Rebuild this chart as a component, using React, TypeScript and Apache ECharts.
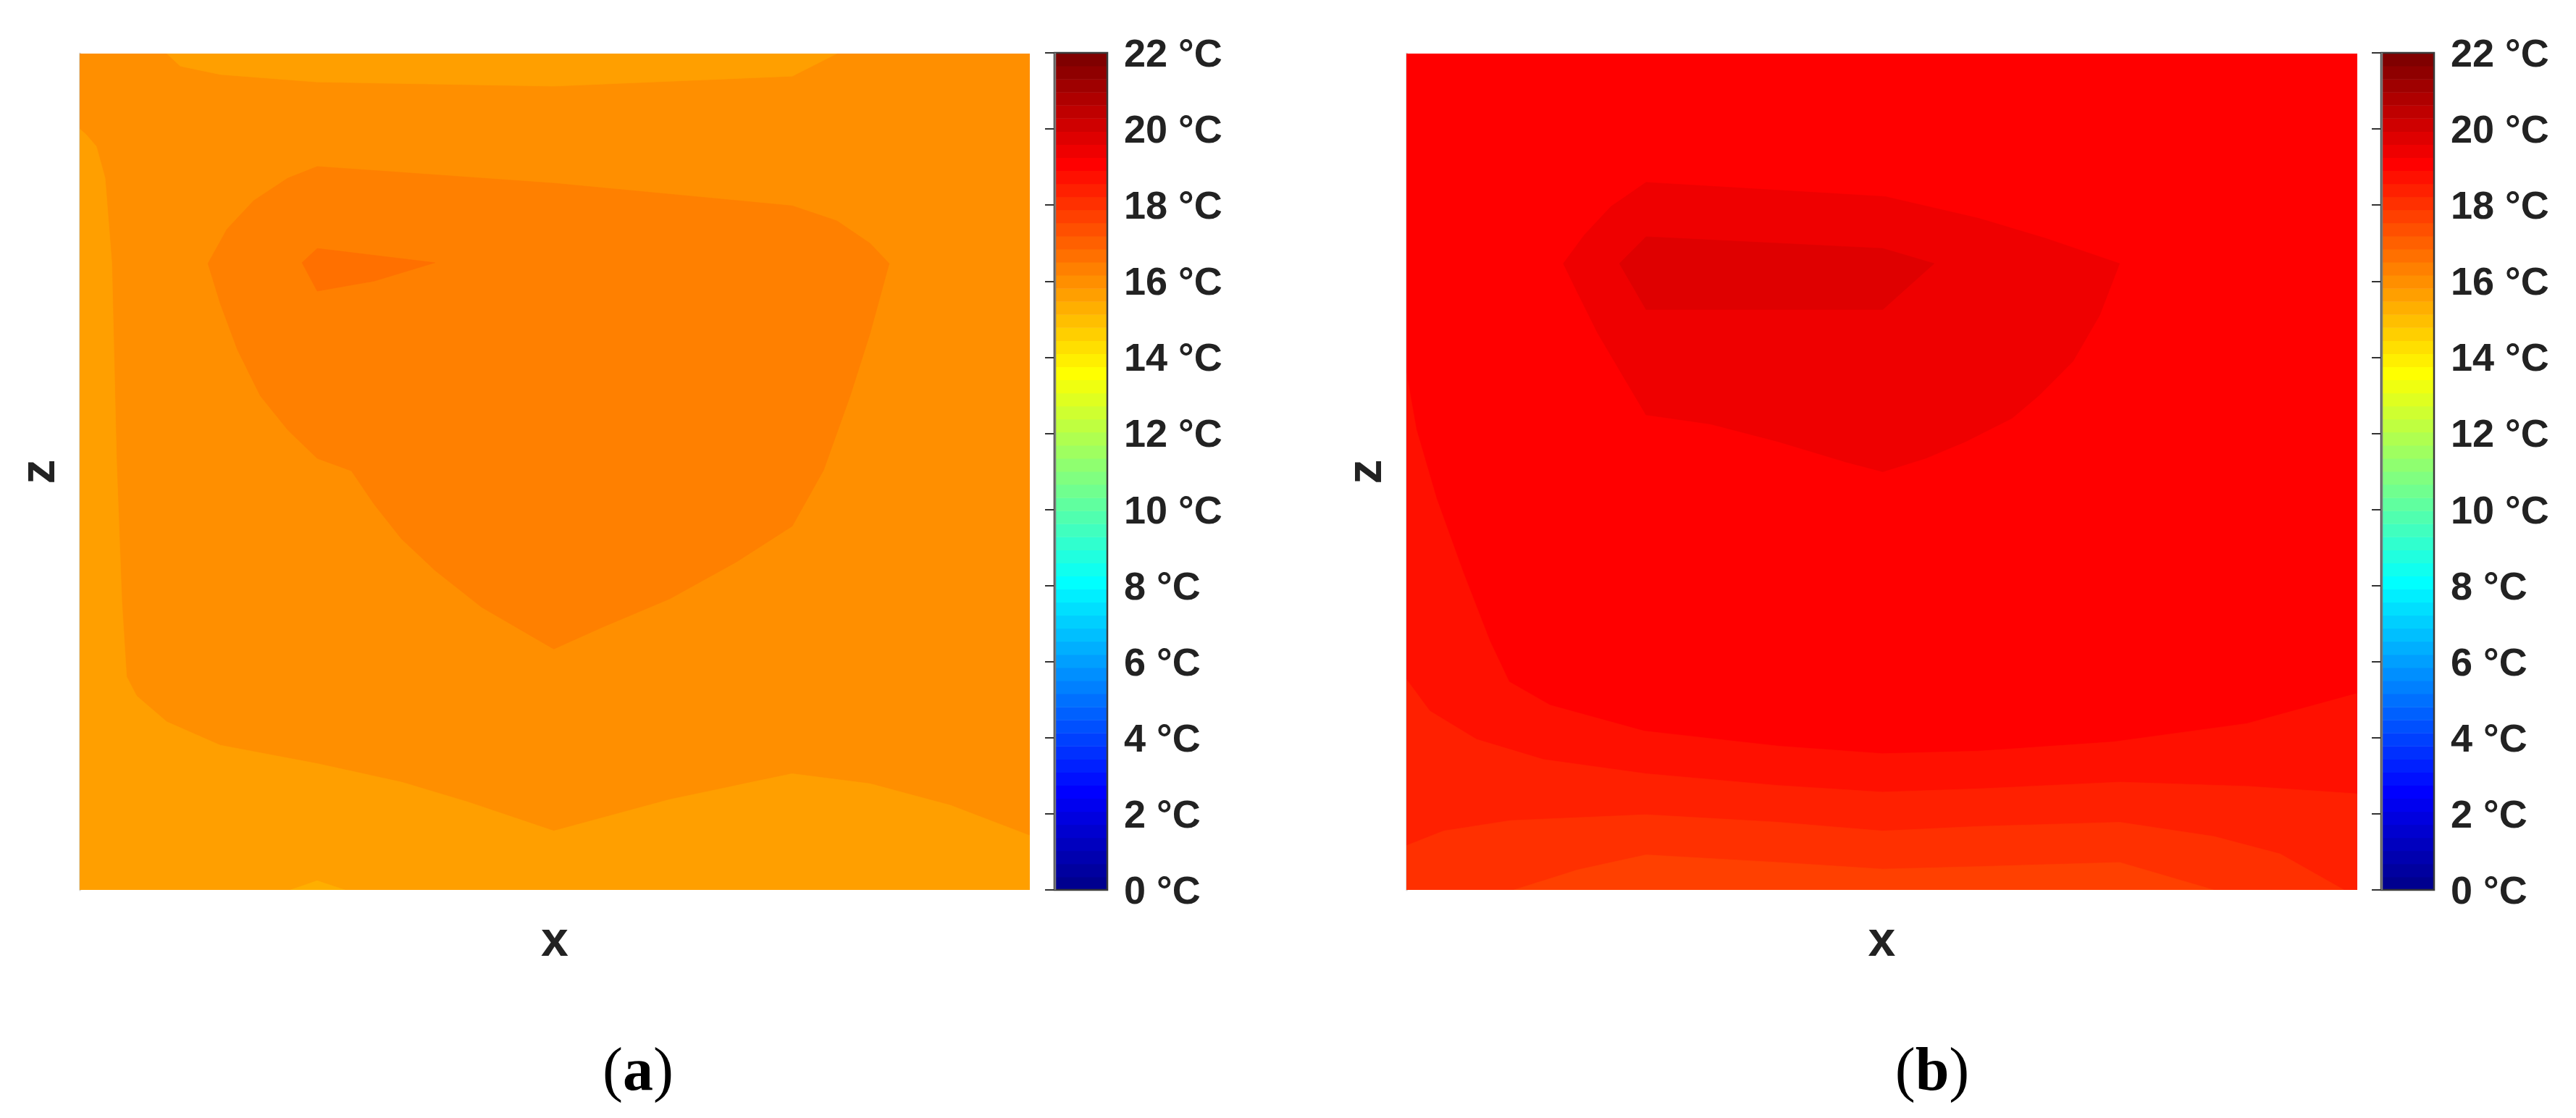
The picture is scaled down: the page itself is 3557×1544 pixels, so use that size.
import React, { useEffect, useRef } from "react";
import * as echarts from "echarts";

type Pt = [number, number];

// ---------- colour scale (MATLAB jet, 64 levels over 0..22 °C) ----------
const colorMin = 0;
const colorMax = 22;
const colorLevels = 64;
const colorbarTicks = [0, 2, 4, 6, 8, 10, 12, 14, 16, 18, 20, 22];

// ---------- panel (a): filled contour regions, x and z in % of the section ----------
const aBase: Pt[] = [[0, 0], [100, 0], [100, 100], [0, 100]];
const aTopBand: Pt[] = [[9.17, 100], [10.58, 98.5], [14.81, 97.5], [25, 96.6], [49.9, 96.1], [75, 97.3], [79.7, 100]];
const aEdgeBand: Pt[] = [
  [0, 91.0], [0.7, 90.3], [1.76, 88.9], [2.68, 85.1], [3.39, 74.9], [3.88, 51.6], [4.44, 34.5], [4.94, 25.5],
  [5.99, 23.2], [9.17, 20.1], [14.81, 17.3], [25, 15.1], [33.85, 12.9], [40.9, 10.5], [49.9, 7.05], [62.06, 10.8],
  [74.96, 13.9], [83.2, 12.7], [91.7, 10.1], [100, 6.5], [100, 0], [0, 0],
];
const aBottomBump: Pt[] = [[22.2, 0], [25.0, 1.1], [27.9, 0]];
const aCore: Pt[] = [
  [25.0, 86.5], [49.9, 84.5], [75.0, 81.8], [79.7, 80.0], [83.2, 77.3], [85.2, 74.9], [83.2, 66.6], [81.1, 59.1],
  [78.3, 50.2], [75.0, 43.5], [69.1, 39.2], [62.1, 34.8], [55.0, 31.4], [49.9, 28.8], [42.3, 33.8], [37.4, 38.2],
  [33.85, 42.0], [31.0, 46.1], [28.6, 50.1], [25.0, 51.6], [21.9, 55.0], [19.0, 59.1], [16.6, 64.6], [14.8, 70.1],
  [13.5, 74.9], [15.5, 79.0], [18.3, 82.4], [21.9, 85.1],
];
const aCoreHot: Pt[] = [[25.0, 76.7], [37.4, 75.0], [31.0, 72.8], [25.0, 71.6], [23.4, 75.0]];
const panelAShapes = [aBase, aTopBand, aEdgeBand, aBottomBump, aCore, aCoreHot];
const panelATemps = [16.0, 15.6, 15.6, 15.3, 16.3, 16.7];

// ---------- panel (b) ----------
const bBase: Pt[] = [[0, 0], [100, 0], [100, 100], [0, 100]];
const bBand1: Pt[] = [
  [0, 61.8], [1.06, 55.0], [3.17, 46.8], [6.0, 37.9], [8.8, 29.7], [10.8, 24.9], [15.1, 22.1], [25.0, 19.0],
  [39.1, 17.2], [50.1, 16.3], [60.2, 16.6], [74.3, 17.7], [88.4, 19.9], [100, 23.5], [100, 0], [0, 0],
];
const bBand2: Pt[] = [
  [0, 25.2], [2.46, 21.4], [7.4, 18.0], [14.4, 15.6], [25.2, 13.9], [39.1, 12.5], [50.1, 11.7], [60.2, 12.1],
  [75.0, 12.9], [88.4, 12.4], [100, 11.5], [100, 0], [0, 0],
];
const bBand3: Pt[] = [
  [0, 5.3], [3.9, 7.05], [10.9, 8.3], [25.2, 9.0], [39.1, 8.1], [50.1, 7.05], [60.2, 7.6], [75.0, 8.1],
  [84.9, 6.4], [91.9, 4.3], [98.6, 0], [0, 0],
];
const bBand4: Pt[] = [[11.3, 0], [18.0, 2.4], [25.2, 4.2], [39.1, 3.3], [50.1, 2.5], [60.2, 2.8], [75.0, 3.3], [84.9, 0]];
const bCore: Pt[] = [
  [25.2, 84.6], [50.35, 82.9], [60.2, 80.3], [67.25, 77.9], [75.0, 74.9], [72.9, 68.7], [70.1, 63.2], [66.5, 59.1],
  [63.7, 56.4], [58.8, 53.6], [54.6, 51.6], [50.1, 50.0], [46.1, 51.2], [39.1, 53.6], [32.0, 55.7], [25.2, 56.8],
  [22.9, 61.2], [20.1, 66.6], [18.0, 71.4], [16.5, 74.9], [18.7, 78.3], [21.5, 81.7],
];
const bCoreHot: Pt[] = [[25.2, 78.1], [50.1, 76.7], [55.5, 74.9], [50.1, 69.4], [25.2, 69.4], [22.4, 74.9]];
const panelBShapes = [bBase, bBand1, bBand2, bBand3, bBand4, bCore, bCoreHot];
const panelBTemps = [19.1, 18.7, 18.4, 18.0, 17.7, 19.4, 19.8];

// ---------- colour helpers ----------
function jetU(k: number): number {
  if (k < 1 || k > 47) return 0;
  if (k <= 16) return k / 16;
  if (k <= 31) return 1;
  return (48 - k) / 16;
}
function jetColorIndex(i: number): string {
  const r = i >= 25 ? jetU(i - 24) : 0;
  const g = i >= 9 && i <= 55 ? jetU(i - 8) : 0;
  const b = i <= 39 ? jetU(i + 8) : 0;
  const h = (v: number) => Math.round(v * 255).toString(16).padStart(2, "0");
  return "#" + h(r) + h(g) + h(b);
}
function tempColor(t: number): string {
  const i = Math.min(colorLevels, Math.max(1, Math.floor(((t - colorMin) / (colorMax - colorMin)) * colorLevels) + 1));
  return jetColorIndex(i);
}

const colorbarBands = Array.from({ length: colorLevels }, (_, i) => i + 1);

const sansFont = "'Liberation Sans', Arial, sans-serif";
const serifFont = "'Liberation Serif', 'Times New Roman', serif";

function contourSeries(shapes: Pt[][], temps: number[], gridIdx: number) {
  return {
    type: "custom",
    xAxisIndex: gridIdx,
    yAxisIndex: gridIdx,
    clip: true,
    data: shapes.map((s, i) => [s[0][0], s[0][1], temps[i]]),
    renderItem: (params: any, api: any) => {
      const shape = shapes[params.dataIndex];
      const col = tempColor(temps[params.dataIndex]);
      return {
        type: "polygon",
        shape: { points: shape.map((p) => api.coord(p)) },
        style: { fill: col, stroke: col, lineWidth: 0.6 },
      };
    },
  };
}

function colorbarSeries(axisIdx: number) {
  return {
    type: "custom",
    xAxisIndex: axisIdx,
    yAxisIndex: axisIdx,
    data: colorbarBands.map((i) => [0.5, ((i - 0.5) * (colorMax - colorMin)) / colorLevels]),
    renderItem: (params: any, api: any) => {
      const i = colorbarBands[params.dataIndex];
      const lo = ((i - 1) * (colorMax - colorMin)) / colorLevels + colorMin;
      const hi = (i * (colorMax - colorMin)) / colorLevels + colorMin;
      const p0 = api.coord([0, hi]);
      const p1 = api.coord([1, lo]);
      const col = jetColorIndex(i);
      const children: any[] = [
        {
          type: "rect",
          shape: { x: p0[0], y: p0[1], width: p1[0] - p0[0], height: p1[1] - p0[1] + 0.5 },
          style: { fill: col },
        },
      ];
      if (params.dataIndex === colorbarBands.length - 1) {
        const t = api.coord([0, colorMax]);
        const b = api.coord([1, colorMin]);
        children.push({
          type: "rect",
          shape: { x: t[0], y: t[1], width: b[0] - t[0], height: b[1] - t[1] },
          style: { fill: "none", stroke: "#3a3a3a", lineWidth: 2.5 },
        });
        children.push({
          type: "line",
          shape: { x1: t[0] + 1, y1: t[1], x2: t[0] + 1, y2: b[1] },
          style: { stroke: "#7a7a7a", lineWidth: 2.5 },
        });
      }
      return { type: "group", children };
    },
  };
}

const plotXAxis = (gridIndex: number) => ({
  gridIndex,
  type: "value",
  min: 0,
  max: 100,
  axisLine: { show: false },
  axisTick: { show: false },
  axisLabel: { show: false },
  splitLine: { show: false },
  name: "x",
  nameLocation: "middle",
  nameGap: 33,
  nameTextStyle: { fontSize: 68, fontWeight: "bold", fontFamily: sansFont, color: "#222" },
});
const plotYAxis = (gridIndex: number) => ({
  gridIndex,
  type: "value",
  min: 0,
  max: 100,
  axisLine: { show: true, lineStyle: { color: "rgba(0,0,0,0.15)", width: 3 } },
  axisTick: { show: false },
  axisLabel: { show: false },
  splitLine: { show: false },
  name: "z",
  nameLocation: "middle",
  nameGap: 25,
  nameTextStyle: { fontSize: 68, fontWeight: "bold", fontFamily: sansFont, color: "#222" },
});
const cbXAxis = (gridIndex: number) => ({
  gridIndex,
  type: "value",
  min: 0,
  max: 1,
  show: false,
});
const cbYAxis = (gridIndex: number) => ({
  gridIndex,
  type: "value",
  position: "right",
  min: colorbarTicks[0],
  max: colorbarTicks[colorbarTicks.length - 1],
  interval: colorbarTicks[1] - colorbarTicks[0],
  axisLine: { show: false },
  axisTick: { show: true, inside: true, length: 13, lineStyle: { color: "#333", width: 2 } },
  axisLabel: {
    show: true,
    margin: 23,
    formatter: (v: number) => `${v} °C`,
    fontSize: 54,
    fontWeight: "bold",
    fontFamily: sansFont,
    color: "#222",
  },
  splitLine: { show: false },
});

export default function App() {
  const ref = useRef<HTMLDivElement>(null);
  useEffect(() => {
    document.body.style.margin = "0";
    if (!ref.current) return;
    const chart = echarts.init(ref.current, undefined, { renderer: "svg" });
    chart.setOption({
      animation: false,
      backgroundColor: "#ffffff",
      grid: [
        { left: 110, top: 74, width: 1312, height: 1155 },
        { left: 1456, top: 73, width: 73, height: 1156 },
        { left: 1942, top: 74, width: 1313, height: 1155 },
        { left: 3288, top: 73, width: 73, height: 1156 },
      ],
      xAxis: [plotXAxis(0), cbXAxis(1), plotXAxis(2), cbXAxis(3)],
      yAxis: [plotYAxis(0), cbYAxis(1), plotYAxis(2), cbYAxis(3)],
      series: [
        contourSeries(panelAShapes, panelATemps, 0),
        colorbarSeries(1),
        contourSeries(panelBShapes, panelBTemps, 2),
        colorbarSeries(3),
      ],
      graphic: [
        {
          type: "text",
          x: 881,
          y: 1476,
          style: {
            text: "{p|(}{b|a}{p|)}",
            align: "center",
            verticalAlign: "middle",
            rich: {
              p: { fontSize: 84, fontFamily: serifFont, fill: "#000" },
              b: { fontSize: 84, fontFamily: serifFont, fontWeight: "bold", fill: "#000" },
            },
          },
        },
        {
          type: "text",
          x: 2668,
          y: 1476,
          style: {
            text: "{p|(}{b|b}{p|)}",
            align: "center",
            verticalAlign: "middle",
            rich: {
              p: { fontSize: 84, fontFamily: serifFont, fill: "#000" },
              b: { fontSize: 84, fontFamily: serifFont, fontWeight: "bold", fill: "#000" },
            },
          },
        },
      ],
    });
    return () => chart.dispose();
  }, []);
  return <div ref={ref} style={{ position: "absolute", left: 0, top: 0, width: 3557, height: 1544 }} />;
}
